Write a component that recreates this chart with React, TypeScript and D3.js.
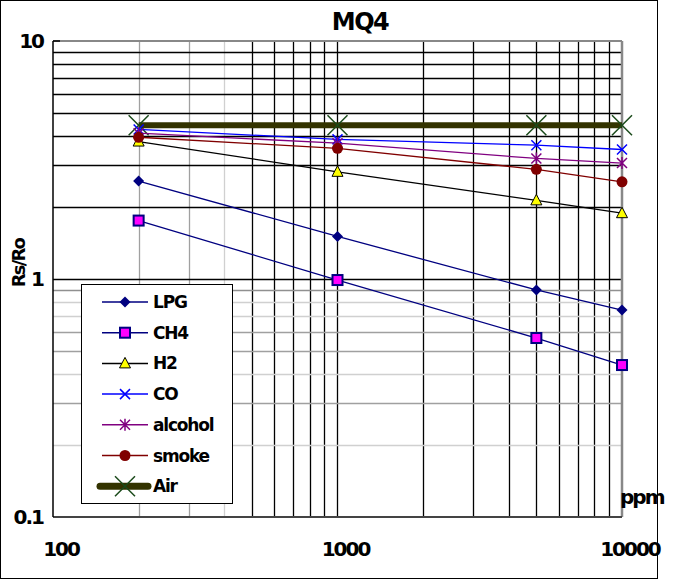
import React from "react";
import * as d3 from "d3";

const ppm = [200, 1000, 5000, 10000];
const LPG = [2.58, 1.51, 0.9, 0.74];
const CH4 = [1.76, 0.99, 0.565, 0.435];
const H2 = [3.78, 2.82, 2.14, 1.89];
const CO = [4.25, 3.86, 3.65, 3.5];
const alcohol = [4.1, 3.72, 3.21, 3.07];
const smoke = [3.94, 3.54, 2.89, 2.56];
const Air = [4.43, 4.43, 4.43, 4.43];

const seriesNames = ["LPG", "CH4", "H2", "CO", "alcohol", "smoke", "Air"];
const xTicks = [100, 1000, 10000];
const yTicks = [10, 1, 0.1];
const yTickLabels = ["10", "1", "0.1"];

const W = 675, H = 581;
const L = 53, R = 622, T = 41, B = 517;

const x = d3.scaleLog().domain([100, 10000]).range([L, R]);
const y = d3.scaleLog().domain([0.1, 10]).range([B, T]);

type Style = { line: string; width: number; marker: string };
const styles: Record<string, Style> = {
  LPG: { line: "#000080", width: 1.3, marker: "diamond" },
  CH4: { line: "#000080", width: 1.3, marker: "square" },
  H2: { line: "#000000", width: 1.3, marker: "triangle" },
  CO: { line: "#0000ff", width: 1.3, marker: "x" },
  alcohol: { line: "#800080", width: 1.3, marker: "star" },
  smoke: { line: "#800000", width: 1.3, marker: "circle" },
  Air: { line: "#333300", width: 6, marker: "bigx" },
};
const dataMap: Record<string, number[]> = { LPG, CH4, H2, CO, alcohol, smoke, Air };

function Marker({ type, cx, cy }: { type: string; cx: number; cy: number }) {
  switch (type) {
    case "diamond":
      return <path d={`M${cx},${cy - 5.5}L${cx + 5.5},${cy}L${cx},${cy + 5.5}L${cx - 5.5},${cy}Z`} fill="#000080" />;
    case "square":
      return <rect x={cx - 5} y={cy - 5} width={10} height={10} fill="#ff00ff" stroke="#000080" strokeWidth={2} />;
    case "triangle":
      return <path d={`M${cx},${cy - 6}L${cx + 5.5},${cy + 4.5}L${cx - 5.5},${cy + 4.5}Z`} fill="#ffff00" stroke="#000000" strokeWidth={1} />;
    case "x":
      return <path d={`M${cx - 5},${cy - 5}L${cx + 5},${cy + 5}M${cx - 5},${cy + 5}L${cx + 5},${cy - 5}`} stroke="#0000ff" strokeWidth={1.5} />;
    case "star":
      return <path d={`M${cx - 5},${cy - 5}L${cx + 5},${cy + 5}M${cx - 5},${cy + 5}L${cx + 5},${cy - 5}M${cx},${cy - 6}L${cx},${cy + 6}`} stroke="#800080" strokeWidth={1.5} />;
    case "circle":
      return <circle cx={cx} cy={cy} r={5.5} fill="#800000" />;
    case "bigx":
      return <path d={`M${cx - 10},${cy - 10}L${cx + 10},${cy + 10}M${cx - 10},${cy + 10}L${cx + 10},${cy - 10}`} stroke="#1a4a1a" strokeWidth={1.5} />;
  }
  return null;
}

const vGrid: { v: number; c: string }[] = [
  { v: 200, c: "#a0a0a0" }, { v: 300, c: "#a0a0a0" }, { v: 400, c: "#d0d0d0" },
  ...[500, 600, 700, 800, 900, 1000, 2000, 3000, 4000, 5000, 6000, 7000, 8000, 9000].map((v) => ({ v, c: "#000" })),
];
const hGrid: { v: number; c: string }[] = [
  ...[2, 3, 4, 5, 6, 7, 8, 9, 1].map((v) => ({ v, c: "#000" })),
  { v: 0.9, c: "#909090" }, { v: 0.8, c: "#d0d0d0" }, { v: 0.7, c: "#d0d0d0" },
  { v: 0.6, c: "#a0a0a0" }, { v: 0.5, c: "#a0a0a0" }, { v: 0.4, c: "#d0d0d0" },
  { v: 0.3, c: "#a0a0a0" }, { v: 0.2, c: "#d0d0d0" },
];

const font = { fontFamily: "'DejaVu Sans', 'Liberation Sans', Arial, sans-serif", fontWeight: 700 as const };

export default function App() {
  const line = d3.line<[number, number]>().x((d) => x(d[0])).y((d) => y(d[1]));
  const drawOrder = ["Air", "LPG", "CH4", "H2", "CO", "alcohol", "smoke"];
  const legY0 = 302, legStep = 30.7;
  return (
    <svg width={W} height={H} style={{ position: "fixed", left: 0, top: 0, background: "#fff" }}>
      <rect x={0} y={0} width={W} height={H} fill="#fff" />
      <rect x={0.5} y={0.5} width={657} height={578} fill="none" stroke="#000" strokeWidth={1} />
      <text x={360} y={30} textAnchor="middle" fontSize={24} letterSpacing={-1.5} {...font}>MQ4</text>
      {vGrid.map((g) => (
        <line key={"v" + g.v} x1={Math.round(x(g.v)) + 0.5} x2={Math.round(x(g.v)) + 0.5} y1={T} y2={B} stroke={g.c} strokeWidth={1.3} />
      ))}
      {hGrid.map((g) => (
        <line key={"h" + g.v} x1={L} x2={R} y1={Math.round(y(g.v)) + 0.5} y2={Math.round(y(g.v)) + 0.5} stroke={g.c} strokeWidth={1.3} />
      ))}
      <line x1={L} x2={R} y1={T} y2={T} stroke="#888" strokeWidth={2} />
      <line x1={R} x2={R} y1={T} y2={B} stroke="#888" strokeWidth={2.5} />
      <line x1={L} x2={R} y1={B} y2={B} stroke="#444" strokeWidth={2} />
      <line x1={L} x2={L} y1={T} y2={B} stroke="#000" strokeWidth={1.5} />
      <line x1={L} x2={L + 7} y1={T} y2={T} stroke="#000" strokeWidth={1.5} />
      {drawOrder.map((name) => {
        const vals = dataMap[name];
        const pts = ppm.map((p, i) => [p, vals[i]] as [number, number]);
        const s = styles[name];
        return (
          <g key={name}>
            <path d={line(pts) || ""} fill="none" stroke={s.line} strokeWidth={s.width} />
            {pts.map((p, i) => (
              <Marker key={i} type={s.marker} cx={x(p[0])} cy={y(p[1])} />
            ))}
          </g>
        );
      })}
      {yTicks.map((v, i) => (
        <text key={"yt" + v} x={43} y={y(v) + 7} textAnchor="end" fontSize={20} letterSpacing={-2} {...font}>{yTickLabels[i]}</text>
      ))}
      {xTicks.map((v) => (
        <text key={"xt" + v} x={x(v) + 8} y={556} textAnchor="middle" fontSize={20} letterSpacing={-2} {...font}>{String(v)}</text>
      ))}
      <text x={620} y={504} fontSize={20} letterSpacing={-2} {...font}>ppm</text>
      <text transform="translate(25,263) rotate(-90)" textAnchor="middle" fontSize={18} letterSpacing={-1.8} {...font}>Rs/Ro</text>
      <g>
        <rect x={81.5} y={284.5} width={151} height={219} fill="#fff" stroke="#000" strokeWidth={1} />
        {seriesNames.map((name, i) => {
          const s = styles[name];
          const cy = legY0 + i * legStep;
          return (
            <g key={"leg" + name}>
              <line x1={name === "Air" ? 100 : 102} x2={name === "Air" ? 148 : 148} y1={cy} y2={cy} stroke={s.line} strokeWidth={name === "Air" ? 7 : 1.5} strokeLinecap={name === "Air" ? "round" : "butt"} />
              <Marker type={s.marker} cx={125} cy={cy} />
              <text x={153} y={cy + 6} fontSize={17} letterSpacing={-1.2} {...font}>{name}</text>
            </g>
          );
        })}
      </g>
    </svg>
  );
}
